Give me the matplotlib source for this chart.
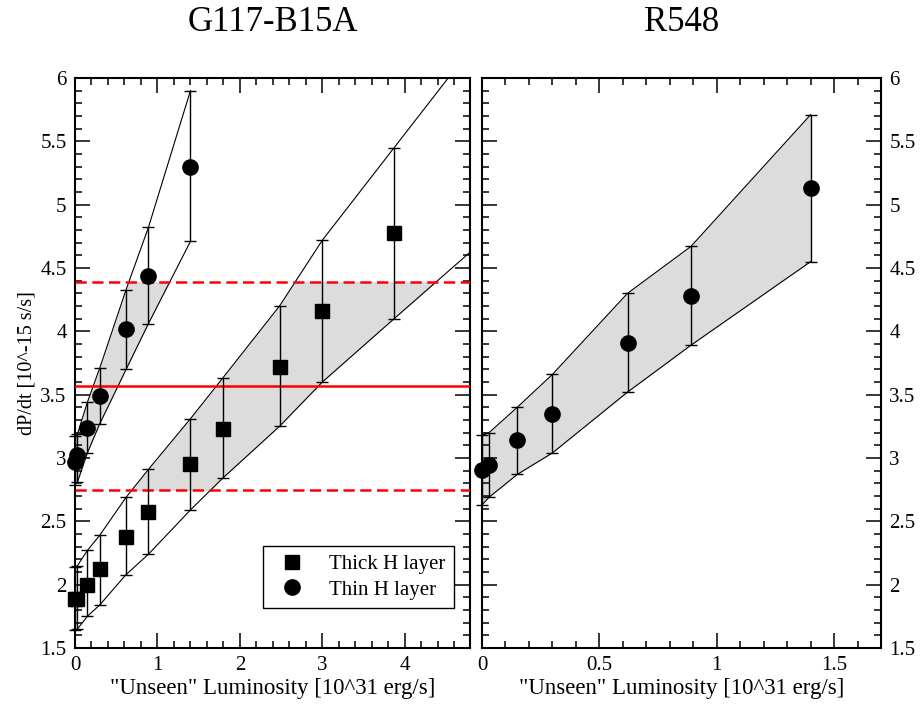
import numpy as np
import matplotlib
matplotlib.use('Agg')
import matplotlib.pyplot as plt
from matplotlib.lines import Line2D
from matplotlib.patches import Rectangle
from matplotlib.ticker import MultipleLocator, FormatStrFormatter

plt.rcParams['font.family'] = ['Liberation Serif', 'DejaVu Serif']

# ── Data ──────────────────────────────────────────────────────────────────
# "unseen" luminosity [10^31 erg/s]
lum = [0.0, 0.03, 0.15, 0.30, 0.62, 0.89, 1.40]

# G117-B15A, thin H layer models
thin_y  = [2.97, 3.02, 3.24, 3.49, 4.02, 4.44, 5.30]
thin_hi = [3.17, 3.19, 3.44, 3.71, 4.33, 4.82, 5.90]
thin_lo = [2.79, 2.81, 3.04, 3.27, 3.70, 4.06, 4.71]

# G117-B15A, thick H layer models
thick_x  = [0.0, 0.03, 0.15, 0.30, 0.62, 0.89, 1.40, 1.79, 2.48, 3.00, 3.87]
thick_y  = [1.89, 1.89, 2.00, 2.12, 2.38, 2.57, 2.95, 3.23, 3.72, 4.16, 4.78]
thick_hi = [2.14, 2.15, 2.27, 2.39, 2.69, 2.91, 3.31, 3.63, 4.20, 4.72, 5.45]
thick_lo = [1.64, 1.65, 1.75, 1.84, 2.08, 2.24, 2.59, 2.84, 3.25, 3.60, 4.10]
# extension of the thick-layer band lines to the right edge
thick_ext_x  = 4.8
thick_ext_hi = 6.23
thick_ext_lo = 4.63

# observed dP/dt of G117-B15A and its 1-sigma range
obs_mean = 3.57
obs_hi   = 4.39
obs_lo   = 2.75

# R548
r548_y  = [2.905, 2.945, 3.14, 3.35, 3.91, 4.28, 5.13]
r548_hi = [3.18, 3.20, 3.40, 3.66, 4.30, 4.67, 5.71]
r548_lo = [2.63, 2.69, 2.87, 3.04, 3.52, 3.89, 4.55]

XLABEL = '"Unseen" Luminosity [10^31 erg/s]'
YLABEL = 'dP/dt [10^-15 s/s]'
GRAY = '#dcdcdc'


def style_axes(ax, xmax, xmajor, xminor):
    ax.set_xlim(0, xmax)
    ax.set_ylim(1.5, 6.0)
    ax.xaxis.set_major_locator(MultipleLocator(xmajor))
    ax.xaxis.set_minor_locator(MultipleLocator(xminor))
    ax.yaxis.set_major_locator(MultipleLocator(0.5))
    ax.yaxis.set_minor_locator(MultipleLocator(0.1))
    ax.xaxis.set_major_formatter(FormatStrFormatter('%g'))
    ax.yaxis.set_major_formatter(FormatStrFormatter('%g'))
    ax.tick_params(which='both', direction='in', top=True, right=True,
                   width=1.1, labelsize=15, pad=6)
    ax.tick_params(which='major', length=11)
    ax.tick_params(which='minor', length=5)
    for s in ax.spines.values():
        s.set_linewidth(1.5)
    ax.set_xlabel(XLABEL, fontsize=16.5, labelpad=2)


def band(ax, x, lo, hi, clip=None):
    poly = ax.fill_between(x, lo, hi, color=GRAY, lw=0, zorder=1)
    if clip is not None:
        poly.set_clip_path(clip)
    ax.plot(x, hi, color='k', lw=0.8, zorder=2)
    ax.plot(x, lo, color='k', lw=0.8, zorder=2)


def points(ax, x, y, lo, hi, marker, ms):
    y = np.array(y)
    yerr = [y - np.array(lo), np.array(hi) - y]
    ax.errorbar(x, y, yerr=yerr, fmt='none', ecolor='k', elinewidth=1.0,
                capsize=4.5, capthick=1.0, zorder=4, clip_on=False)
    ax.plot(x, y, ls='none', marker=marker, ms=ms, color='k',
            zorder=5, clip_on=False)


fig = plt.figure(figsize=(9.22, 7.09), dpi=100)
ax1 = fig.add_axes([75 / 922, 61 / 709, 395 / 922, 570 / 709])
ax2 = fig.add_axes([482 / 922, 61 / 709, 399 / 922, 570 / 709])

# ── Left panel: G117-B15A ─────────────────────────────────────────────────
style_axes(ax1, 4.79, 1, 0.2)
ax1.set_ylabel(YLABEL, fontsize=14.5, labelpad=3)
ax1.set_title('G117-B15A', fontsize=25, pad=34)

clip = Rectangle((0, obs_lo), 10, obs_hi - obs_lo, transform=ax1.transData)
band(ax1, lum, thin_lo, thin_hi, clip)
clip2 = Rectangle((0, obs_lo), 10, obs_hi - obs_lo, transform=ax1.transData)
band(ax1, thick_x + [thick_ext_x], thick_lo + [thick_ext_lo],
     thick_hi + [thick_ext_hi], clip2)

ax1.axhline(obs_mean, color='#ff0000', lw=1.8, zorder=3)
ax1.axhline(obs_hi, color='#ff0000', lw=1.8, dashes=(4.5, 2.2), zorder=3)
ax1.axhline(obs_lo, color='#ff0000', lw=1.8, dashes=(4.5, 2.2), zorder=3)

points(ax1, thick_x, thick_y, thick_lo, thick_hi, 's', 10)
points(ax1, lum, thin_y, thin_lo, thin_hi, 'o', 11)

handles = [Line2D([], [], ls='none', marker='s', ms=10, color='k'),
           Line2D([], [], ls='none', marker='o', ms=11, color='k')]
leg = ax1.legend(handles, ['Thick H layer', 'Thin H layer'],
                 loc='lower right', bbox_to_anchor=(0.96, 0.07),
                 borderaxespad=0, fontsize=15, fancybox=False,
                 framealpha=1, edgecolor='k', handletextpad=0.8,
                 borderpad=0.4, labelspacing=0.3)
leg.get_frame().set_linewidth(1.0)

# ── Right panel: R548 ─────────────────────────────────────────────────────
style_axes(ax2, 1.7, 0.5, 0.1)
ax2.tick_params(which='both', labelleft=False, labelright=True)
ax2.set_title('R548', fontsize=25, pad=34)

band(ax2, lum, r548_lo, r548_hi)
points(ax2, lum, r548_y, r548_lo, r548_hi, 'o', 11)

plt.savefig('out.png', dpi=100)
